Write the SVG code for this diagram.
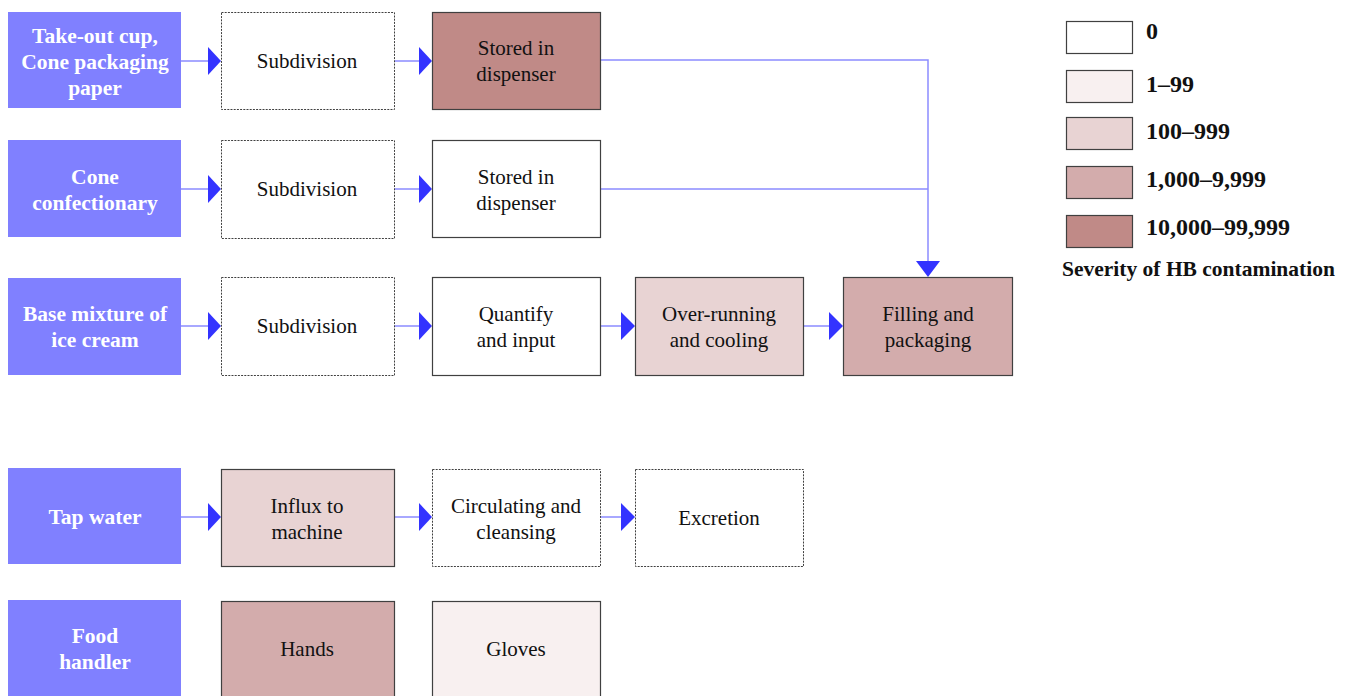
<svg xmlns="http://www.w3.org/2000/svg" width="1349" height="696" viewBox="0 0 1349 696">
<style>
.src{fill:#8080FF;}
.st{fill:#FFFFFF;font-family:"Liberation Serif",serif;font-weight:bold;font-size:21.5px;text-anchor:middle;}
.nd{stroke:#404040;stroke-width:1.2;}
.ds{fill:#FFFFFF;stroke:#404040;stroke-width:1;stroke-dasharray:2 1.2;}
.t{fill:#111111;font-family:"Liberation Serif",serif;font-size:21px;text-anchor:middle;}
.lt{fill:#111111;font-family:"Liberation Serif",serif;font-weight:bold;font-size:24px;}
.cap{fill:#111111;font-family:"Liberation Serif",serif;font-weight:bold;font-size:21.5px;}
.ln{stroke:#8C8CFF;stroke-width:1.5;fill:none;}
.ah{fill:#3333FF;}
</style>
<rect width="1349" height="696" fill="#FFFFFF"/>

<g id="connectors">
<path class="ln" d="M181,61 H210 M394,61 H422 M600,60 H928 V264 M600,189 H928"/>
<path class="ln" d="M181,189 H210 M394,189 H422"/>
<path class="ln" d="M181,326 H210 M394,326 H422 M600,326 H624 M803,326 H832"/>
<path class="ln" d="M181,517 H210 M394,517 H422 M600,517 H624"/>
<polygon class="ah" points="208,47 221,61 208,75"/>
<polygon class="ah" points="419,47 432,61 419,75"/>
<polygon class="ah" points="208,175 221,189 208,203"/>
<polygon class="ah" points="419,175 432,189 419,203"/>
<polygon class="ah" points="208,312 221,326 208,340"/>
<polygon class="ah" points="419,312 432,326 419,340"/>
<polygon class="ah" points="621,312 635,326 621,340"/>
<polygon class="ah" points="829,312 843,326 829,340"/>
<polygon class="ah" points="208,503 221,517 208,531"/>
<polygon class="ah" points="419,503 432,517 419,531"/>
<polygon class="ah" points="621,503 635,517 621,531"/>
<polygon class="ah" points="916,261 940,261 928,277"/>
</g>

<g id="src-takeout"><rect class="src" x="8" y="12" width="173" height="96"/>
<text class="st" x="95" y="43">Take-out cup,</text><text class="st" x="95" y="69">Cone packaging</text><text class="st" x="95" y="95">paper</text></g>
<g id="sub1"><rect class="ds" x="221.5" y="12.5" width="173" height="97"/><text class="t" x="307" y="68">Subdivision</text></g>
<g id="stored1"><rect class="nd" fill="#C08A87" x="432.5" y="12.5" width="168" height="97"/><text class="t" x="516" y="55">Stored in</text><text class="t" x="516" y="81">dispenser</text></g>

<g id="src-cone"><rect class="src" x="8" y="140" width="173" height="97"/>
<text class="st" x="95" y="184">Cone</text><text class="st" x="95" y="210">confectionary</text></g>
<g id="sub2"><rect class="ds" x="221.5" y="140.5" width="173" height="98"/><text class="t" x="307" y="196">Subdivision</text></g>
<g id="stored2"><rect class="nd" fill="#FFFFFF" x="432.5" y="140.5" width="168" height="97"/><text class="t" x="516" y="184">Stored in</text><text class="t" x="516" y="210">dispenser</text></g>

<g id="src-base"><rect class="src" x="8" y="278" width="173" height="97"/>
<text class="st" x="95" y="321">Base mixture of</text><text class="st" x="95" y="347">ice cream</text></g>
<g id="sub3"><rect class="ds" x="221.5" y="277.5" width="173" height="98"/><text class="t" x="307" y="333">Subdivision</text></g>
<g id="quantify"><rect class="nd" fill="#FFFFFF" x="432.5" y="277.5" width="168" height="98"/><text class="t" x="516" y="321">Quantify</text><text class="t" x="516" y="347">and input</text></g>
<g id="overrun"><rect class="nd" fill="#E8D3D3" x="635.5" y="277.5" width="168" height="98"/><text class="t" x="719" y="321">Over-running</text><text class="t" x="719" y="347">and cooling</text></g>
<g id="filling"><rect class="nd" fill="#D3ACAC" x="843.5" y="277.5" width="169" height="98"/><text class="t" x="928" y="321">Filling  and</text><text class="t" x="928" y="347">packaging</text></g>

<g id="src-tap"><rect class="src" x="8" y="468" width="173" height="96"/>
<text class="st" x="95" y="524">Tap water</text></g>
<g id="influx"><rect class="nd" fill="#E8D3D3" x="221.5" y="469.5" width="173" height="97"/><text class="t" x="307" y="513">Influx to</text><text class="t" x="307" y="539">machine</text></g>
<g id="circ"><rect class="ds" x="432.5" y="469.5" width="168" height="97"/><text class="t" x="516" y="513">Circulating and</text><text class="t" x="516" y="539">cleansing</text></g>
<g id="excretion"><rect class="ds" x="635.5" y="469.5" width="168" height="97"/><text class="t" x="719" y="525">Excretion</text></g>

<g id="src-food"><rect class="src" x="8" y="600" width="173" height="100"/>
<text class="st" x="95" y="643">Food</text><text class="st" x="95" y="669">handler</text></g>
<g id="hands"><rect class="nd" fill="#D3ACAC" x="221.5" y="601.5" width="173" height="100"/><text class="t" x="307" y="656">Hands</text></g>
<g id="gloves"><rect class="nd" fill="#F8F0F0" x="432.5" y="601.5" width="168" height="100"/><text class="t" x="516" y="656">Gloves</text></g>

<g id="legend">
<rect class="nd" fill="#FFFFFF" x="1066.5" y="21.5" width="66" height="32"/><text class="lt" x="1146" y="39">0</text>
<rect class="nd" fill="#F8F0F0" x="1066.5" y="70.5" width="66" height="32"/><text class="lt" x="1146" y="92">1–99</text>
<rect class="nd" fill="#E8D3D3" x="1066.5" y="117.5" width="66" height="32"/><text class="lt" x="1146" y="139">100–999</text>
<rect class="nd" fill="#D3ACAC" x="1066.5" y="166.5" width="66" height="32"/><text class="lt" x="1146" y="187">1,000–9,999</text>
<rect class="nd" fill="#C08A87" x="1066.5" y="215.5" width="66" height="32"/><text class="lt" x="1146" y="235">10,000–99,999</text>
<text class="cap" x="1062" y="276">Severity of HB contamination</text>
</g>
</svg>
